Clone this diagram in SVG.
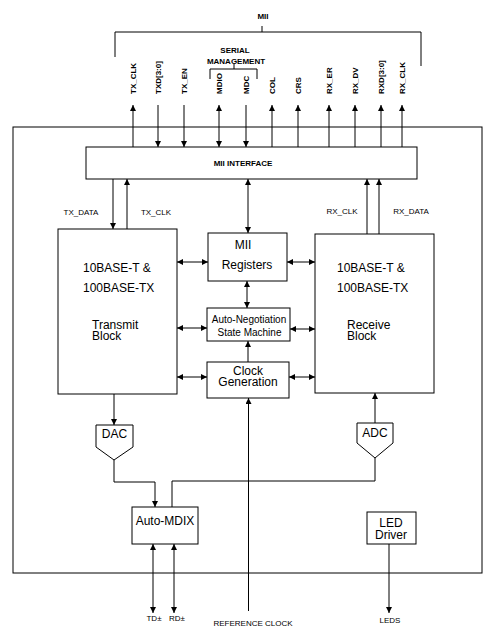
<svg xmlns="http://www.w3.org/2000/svg" width="486" height="641" viewBox="0 0 486 641">
<defs>
<style>
.ln{stroke:#000;stroke-width:1;fill:none}
.bx{stroke:#000;stroke-width:1;fill:#fff}
.a{marker-end:url(#ah)}
.b{marker-start:url(#ah);marker-end:url(#ah)}
text{font-family:"Liberation Sans",Arial,sans-serif;fill:#000}
.big{font-size:12px}
.med{font-size:10px}
.sm{font-size:8px}
.smb{font-size:8px;font-weight:bold}
.c{text-anchor:middle}
</style>
<marker id="ah" markerUnits="userSpaceOnUse" markerWidth="6" markerHeight="6" refX="6" refY="3" orient="auto-start-reverse" viewBox="0 0 6 6">
<path d="M0,0 L6,3 L0,6 z" fill="#000"/>
</marker>
</defs>
<rect width="486" height="641" fill="#fff"/>

<g id="mii-label">
<text class="smb c" x="263" y="19">MII</text>
<path class="ln" d="M115,57 V32 H421 V66 M262,26 V32"/>
</g>
<g id="serial-management">
<text class="smb c" x="235" y="53">SERIAL</text>
<text class="smb c" x="236" y="64">MANAGEMENT</text>
<path class="ln" d="M210,79 V69 H257 V79 M234,64 V69"/>
</g>
<g id="pin-labels" class="smb">
<text transform="translate(136,94) rotate(-90)">TX_CLK</text>
<text transform="translate(161,94) rotate(-90)">TXD[3:0]</text>
<text transform="translate(187,94) rotate(-90)">TX_EN</text>
<text transform="translate(222,94) rotate(-90)">MDIO</text>
<text transform="translate(249,94) rotate(-90)">MDC</text>
<text transform="translate(275,94) rotate(-90)">COL</text>
<text transform="translate(301,94) rotate(-90)">CRS</text>
<text transform="translate(332,94) rotate(-90)">RX_ER</text>
<text transform="translate(358,94) rotate(-90)">RX_DV</text>
<text transform="translate(384,94) rotate(-90)">RXD[3:0]</text>
<text transform="translate(405,94) rotate(-90)">RX_CLK</text>
</g>

<g id="chip">
<rect class="ln" x="13" y="127" width="469" height="446"/>
</g>

<g id="connectors">
<line class="ln a" x1="133" y1="147" x2="133" y2="105"/>
<line class="ln a" x1="158" y1="105" x2="158" y2="147"/>
<line class="ln a" x1="184" y1="105" x2="184" y2="147"/>
<line class="ln b" x1="219" y1="105" x2="219" y2="147"/>
<line class="ln a" x1="246" y1="105" x2="246" y2="147"/>
<line class="ln a" x1="272" y1="147" x2="272" y2="105"/>
<line class="ln a" x1="298" y1="147" x2="298" y2="105"/>
<line class="ln a" x1="329" y1="147" x2="329" y2="105"/>
<line class="ln a" x1="355" y1="147" x2="355" y2="105"/>
<line class="ln a" x1="381" y1="147" x2="381" y2="105"/>
<line class="ln a" x1="402" y1="147" x2="402" y2="105"/>

<line class="ln a" x1="113" y1="179" x2="113" y2="229"/>
<line class="ln a" x1="127" y1="229" x2="127" y2="179"/>
<line class="ln b" x1="248" y1="179" x2="248" y2="233"/>
<line class="ln a" x1="367" y1="234" x2="367" y2="179"/>
<line class="ln a" x1="379" y1="234" x2="379" y2="179"/>

<line class="ln b" x1="177" y1="262" x2="208" y2="262"/>
<line class="ln b" x1="287" y1="262" x2="315" y2="262"/>
<line class="ln b" x1="177" y1="328" x2="207" y2="328"/>
<line class="ln b" x1="290" y1="329" x2="315" y2="329"/>
<line class="ln b" x1="177" y1="377" x2="207" y2="377"/>
<line class="ln b" x1="289" y1="377" x2="315" y2="377"/>
<line class="ln b" x1="247" y1="281" x2="247" y2="308"/>
<line class="ln a" x1="248" y1="362" x2="248" y2="341"/>

<line class="ln a" x1="114" y1="394" x2="114" y2="425"/>
<line class="ln a" x1="375" y1="423" x2="375" y2="393"/>
<path class="ln a" d="M114,460 V482 H155 V507"/>
<path class="ln" d="M375,458 V481 H172 V507"/>
<line class="ln a" x1="248.5" y1="611" x2="248.5" y2="398"/>

<line class="ln b" x1="153" y1="544" x2="153" y2="613"/>
<line class="ln b" x1="174" y1="544" x2="174" y2="613"/>
<line class="ln a" x1="389" y1="544" x2="389" y2="613"/>

<text class="sm c" x="81" y="215">TX_DATA</text>
<text class="sm c" x="156" y="215">TX_CLK</text>
<text class="sm c" x="342" y="214">RX_CLK</text>
<text class="sm c" x="411" y="214">RX_DATA</text>
</g>

<g id="mii-interface">
<rect class="bx" x="86" y="147" width="331" height="32"/>
<text class="smb c" x="243" y="166">MII INTERFACE</text>
</g>

<g id="transmit-block">
<rect class="bx" x="58" y="229" width="119" height="165"/>
<text class="big" x="83" y="272">10BASE-T &amp;</text>
<text class="big" x="83" y="292">100BASE-TX</text>
<text class="big" x="92" y="329">Transmit</text>
<text class="big" x="92" y="340">Block</text>
</g>

<g id="receive-block">
<rect class="bx" x="315" y="234" width="119" height="159"/>
<text class="big" x="337" y="272">10BASE-T &amp;</text>
<text class="big" x="337" y="292">100BASE-TX</text>
<text class="big" x="347" y="329">Receive</text>
<text class="big" x="347" y="340">Block</text>
</g>

<g id="mii-registers">
<rect class="bx" x="208" y="233" width="79" height="48"/>
<text class="big c" x="243" y="249">MII</text>
<text class="big c" x="247" y="269">Registers</text>
</g>

<g id="auto-negotiation">
<rect class="bx" x="207" y="308" width="83" height="33"/>
<text class="med c" x="249" y="322.5">Auto-Negotiation</text>
<text class="med c" x="249.5" y="336">State Machine</text>
</g>

<g id="clock-generation">
<rect class="bx" x="207" y="362" width="82" height="36"/>
<text class="big c" x="248" y="375">Clock</text>
<text class="big c" x="248" y="386">Generation</text>
</g>

<g id="dac">
<path class="bx" d="M96,425 H133 V447 L114,460 L96,447 Z"/>
<text class="big c" x="114.5" y="438">DAC</text>
</g>

<g id="adc">
<path class="bx" d="M357,423 H393 V443 L375,458 L357,443 Z"/>
<text class="big c" x="375" y="437">ADC</text>
</g>

<g id="auto-mdix">
<rect class="bx" x="132" y="507" width="66" height="37"/>
<text class="big c" x="165" y="525">Auto-MDIX</text>
</g>

<g id="led-driver">
<rect class="bx" x="367" y="512" width="49" height="32"/>
<text class="big c" x="391" y="527">LED</text>
<text class="big c" x="391" y="538.5">Driver</text>
</g>

<g id="bottom-labels">
<text class="sm c" x="154" y="621">TD±</text>
<text class="sm c" x="177" y="621">RD±</text>
<text class="sm c" x="253" y="626">REFERENCE CLOCK</text>
<text class="sm c" x="390" y="623">LEDS</text>
</g>
</svg>
